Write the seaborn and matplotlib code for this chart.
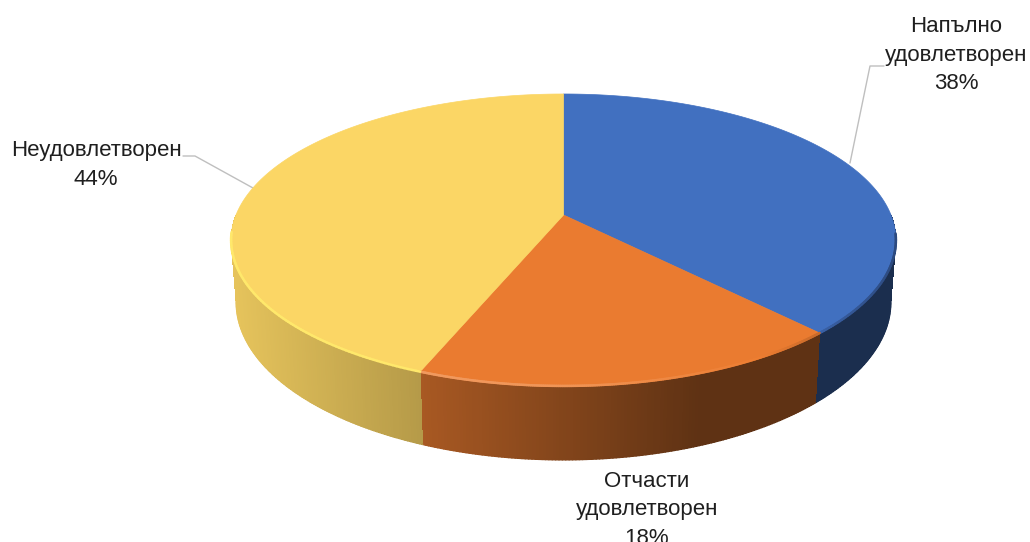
import numpy as np
import matplotlib
matplotlib.use("Agg")
import matplotlib.pyplot as plt
from matplotlib.collections import PolyCollection, LineCollection
from matplotlib.patches import Polygon
import seaborn as sns

# --- data -------------------------------------------------------------
categories = ["Напълно\nудовлетворен", "Отчасти\nудовлетворен", "Неудовлетворен"]
values = [38, 18, 44]
colors = ["#4472C4", "#ED7D31", "#FFD966"]
top_colors = ["#4170C0", "#EA7B30", "#FBD665"]

sns.set_theme(style="white")
plt.rcParams["font.family"] = ["Liberation Sans", "DejaVu Sans"]

fig = plt.figure(figsize=(10.30, 5.42), dpi=100, facecolor="white")
ax = fig.add_axes([0, 0, 1, 1])
ax.set_xlim(0, 1030)
ax.set_ylim(542, 0)
ax.axis("off")

# --- perspective projection of the disc --------------------------------
CX, CY = 563.5, 215.0
A, B, C = 327.5, 141.7, 0.171


def top(theta):
    X, Y = np.sin(theta), -np.cos(theta)
    w = 1 - C * Y
    return CX + A * X / w, CY + B * Y / w


def bottom(theta):
    x, y = top(theta)
    return CX + (x - CX) * 0.984, CY + 60 + (y - CY) * 1.08


def shade(x):
    return np.interp(x, [232, 420, 700, 895], [0.90, 0.71, 0.40, 0.40])


fractions = np.array(values, dtype=float) / np.sum(values)
edges = np.concatenate([[0.0], np.cumsum(fractions)]) * 2 * np.pi

# --- sides: thin quads, with a smooth lower edge -------------------------
quads, quad_colors, low_segs, low_cols = [], [], [], []
for i, col in enumerate(colors):
    rgb = np.array(matplotlib.colors.to_rgb(col))
    th = np.linspace(edges[i], edges[i + 1], int(fractions[i] * 720) + 2)
    for a, b in zip(th[:-1], th[1:]):
        Y = -np.cos((a + b) / 2)
        if Y < -0.3:
            continue
        xa, ya = top(a)
        xb, yb = top(b)
        xc, yc = bottom(b)
        xd, yd = bottom(a)
        c = tuple(rgb * shade((xa + xb) / 2))
        if Y < 0:  # keep the hidden back part safely under the top face
            xa, ya = CX + (xa - CX) * 0.98, CY + (ya - CY) * 0.98
            xb, yb = CX + (xb - CX) * 0.98, CY + (yb - CY) * 0.98
        quads.append([(xa, ya), (xb, yb), (xc, yc), (xd, yd)])
        quad_colors.append(c)
        low_segs.append([(xd, yd), (xc, yc)])
        low_cols.append(c)
ax.add_collection(PolyCollection(quads, facecolors=quad_colors,
                                 edgecolors="none", antialiased=False, zorder=2))
ax.add_collection(LineCollection(low_segs, colors=low_cols, linewidths=1.3,
                                 capstyle="round", zorder=2.1))

# --- top faces ---------------------------------------------------------
for i, col in enumerate(top_colors):
    th = np.linspace(edges[i], edges[i + 1], 240)
    x, y = top(th)
    pts = np.column_stack([np.r_[CX, x], np.r_[CY, y]])
    ax.add_patch(Polygon(pts, closed=True, facecolor=col, edgecolor=col,
                         linewidth=0.5, zorder=3))

# --- bevel on the front rim ---------------------------------------------
for i, col in enumerate(colors):
    rgb = np.array(matplotlib.colors.to_rgb(col))
    th = np.linspace(edges[i], edges[i + 1], 240)
    x, y = top(th)
    segs, cols = [], []
    for k in range(len(th) - 1):
        if -np.cos(th[k]) < 0.12:
            continue
        mx = (x[k] + x[k + 1]) / 2
        t = np.interp(mx, [232, 560, 760, 895], [0.28, 0.18, 0.0, -0.35])
        c = rgb + (1 - rgb) * t if t >= 0 else rgb * (1 + t)
        if i == 2:
            c = np.array([1.0, 0.91, 0.42])
        segs.append([(x[k], y[k]), (x[k + 1], y[k + 1])])
        cols.append(tuple(np.clip(c, 0, 1)))
    ax.add_collection(LineCollection(segs, colors=cols, linewidths=1.8,
                                     capstyle="round", zorder=4))

# --- leader lines ------------------------------------------------------
leader = dict(color="#BFBFBF", lw=1.0, zorder=1.5)
ax.plot([850, 870, 884], [163, 66, 66], **leader)
ax.plot([253, 195, 183], [188, 156, 156], **leader)

# --- labels -------------------------------------------------------------
label_pos = [(956, 55), (647, 510), (96, 165)]
for cat, v, (lx, ly) in zip(categories, values, label_pos):
    ax.text(lx, ly, f"{cat}\n{v}%", ha="center", va="center",
            multialignment="center", fontsize=16, color="#1F1F1F",
            linespacing=1.45, zorder=6, clip_on=False)

fig.savefig("out.png", dpi=100, facecolor="white")
